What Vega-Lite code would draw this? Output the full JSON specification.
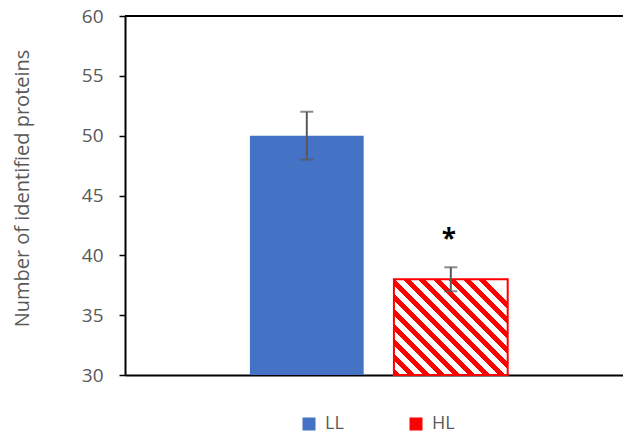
{
  "$schema": "https://vega.github.io/schema/vega-lite/v6.json",
  "autosize": "none",
  "width": 498,
  "height": 359,
  "padding": {"left": 125, "top": 16, "right": 0, "bottom": 59},
  "background": "white",
  "config": {"view": {"stroke": null}, "font": "Open Sans"},
  "data": {"values": [
    {"group": "LL", "mean": 50, "lo": 48, "hi": 52, "sig": "", "sigY": 41.7},
    {"group": "HL", "mean": 38, "lo": 37, "hi": 39, "sig": "*", "sigY": 41.7}
  ]},
  "layer": [
    {
      "mark": {"type": "bar"},
      "encoding": {
        "x": {"field": "group", "type": "nominal", "sort": ["LL", "HL"],
          "scale": {"paddingInner": 0.21, "paddingOuter": 0.834, "align": 0.52},
          "axis": {"title": null, "labels": false, "ticks": false, "domainColor": "#000000", "domainWidth": 2}},
        "y": {"field": "mean", "type": "quantitative",
          "scale": {"domain": [30, 60], "nice": false, "zero": false},
          "axis": {"values": [30, 35, 40, 45, 50, 55, 60], "grid": false,
            "title": "Number of identified proteins", "titleFontSize": 20, "titleFontWeight": "normal",
            "titleColor": "#595959", "titleX": -103, "titleY": 172, "titleAlign": "center", "titleBaseline": "middle", "titleAngle": -90,
            "labelFontSize": 19, "labelColor": "#595959", "labelPadding": 16,
            "tickSize": 6, "tickColor": "#000000", "tickWidth": 1.5,
            "domainColor": "#000000", "domainWidth": 2}},
        "y2": {"datum": 30},
        "fill": {"field": "group", "type": "nominal", "sort": ["LL", "HL"],
          "scale": {"domain": ["LL", "HL"], "range": ["#4472C4", "#FF0000"]},
          "legend": {"title": null, "orient": "none", "legendX": 175, "legendY": 399, "direction": "horizontal", "columns": 2,
            "symbolType": "square", "symbolSize": 169, "labelFontSize": 18, "labelColor": "#595959",
            "labelOffset": 7, "columnPadding": 63}}
      }
    },
    {
      "transform": [{"filter": "datum.group === 'HL'"}],
      "mark": {"type": "bar", "stroke": "#FF0000", "strokeWidth": 2,
        "fill": {
            "gradient": "linear", "x1": 0, "y1": 1, "x2": 1, "y2": 0.158,
            "stops": [
              {"offset": 0.000, "color": "#FF0000"}, {"offset": 0.035, "color": "#FF0000"}, {"offset": 0.035, "color": "#FFFFFF"}, {"offset": 0.077, "color": "#FFFFFF"},
              {"offset": 0.077, "color": "#FF0000"}, {"offset": 0.112, "color": "#FF0000"}, {"offset": 0.112, "color": "#FFFFFF"}, {"offset": 0.154, "color": "#FFFFFF"},
              {"offset": 0.154, "color": "#FF0000"}, {"offset": 0.189, "color": "#FF0000"}, {"offset": 0.189, "color": "#FFFFFF"}, {"offset": 0.231, "color": "#FFFFFF"},
              {"offset": 0.231, "color": "#FF0000"}, {"offset": 0.266, "color": "#FF0000"}, {"offset": 0.266, "color": "#FFFFFF"}, {"offset": 0.308, "color": "#FFFFFF"},
              {"offset": 0.308, "color": "#FF0000"}, {"offset": 0.343, "color": "#FF0000"}, {"offset": 0.343, "color": "#FFFFFF"}, {"offset": 0.385, "color": "#FFFFFF"},
              {"offset": 0.385, "color": "#FF0000"}, {"offset": 0.420, "color": "#FF0000"}, {"offset": 0.420, "color": "#FFFFFF"}, {"offset": 0.462, "color": "#FFFFFF"},
              {"offset": 0.462, "color": "#FF0000"}, {"offset": 0.497, "color": "#FF0000"}, {"offset": 0.497, "color": "#FFFFFF"}, {"offset": 0.538, "color": "#FFFFFF"},
              {"offset": 0.538, "color": "#FF0000"}, {"offset": 0.573, "color": "#FF0000"}, {"offset": 0.573, "color": "#FFFFFF"}, {"offset": 0.615, "color": "#FFFFFF"},
              {"offset": 0.615, "color": "#FF0000"}, {"offset": 0.650, "color": "#FF0000"}, {"offset": 0.650, "color": "#FFFFFF"}, {"offset": 0.692, "color": "#FFFFFF"},
              {"offset": 0.692, "color": "#FF0000"}, {"offset": 0.727, "color": "#FF0000"}, {"offset": 0.727, "color": "#FFFFFF"}, {"offset": 0.769, "color": "#FFFFFF"},
              {"offset": 0.769, "color": "#FF0000"}, {"offset": 0.804, "color": "#FF0000"}, {"offset": 0.804, "color": "#FFFFFF"}, {"offset": 0.846, "color": "#FFFFFF"},
              {"offset": 0.846, "color": "#FF0000"}, {"offset": 0.881, "color": "#FF0000"}, {"offset": 0.881, "color": "#FFFFFF"}, {"offset": 0.923, "color": "#FFFFFF"},
              {"offset": 0.923, "color": "#FF0000"}, {"offset": 0.958, "color": "#FF0000"}, {"offset": 0.958, "color": "#FFFFFF"}, {"offset": 1.000, "color": "#FFFFFF"}
            ]}},
      "encoding": {
        "x": {"field": "group", "type": "nominal", "sort": ["LL", "HL"]},
        "y": {"field": "mean", "type": "quantitative"},
        "y2": {"datum": 30}
      }
    },
    {
      "mark": {"type": "rule", "color": "#595959", "strokeWidth": 2},
      "encoding": {
        "x": {"field": "group", "type": "nominal", "sort": ["LL", "HL"]},
        "y": {"field": "lo", "type": "quantitative"}, "y2": {"field": "hi"}}
    },
    {
      "mark": {"type": "tick", "color": "#595959", "thickness": 2, "size": 13},
      "encoding": {
        "x": {"field": "group", "type": "nominal", "sort": ["LL", "HL"]},
        "y": {"field": "lo", "type": "quantitative"}}
    },
    {
      "mark": {"type": "tick", "color": "#595959", "thickness": 2, "size": 13},
      "encoding": {
        "x": {"field": "group", "type": "nominal", "sort": ["LL", "HL"]},
        "y": {"field": "hi", "type": "quantitative"}}
    },
    {
      "mark": {"type": "text", "fontSize": 26, "fontWeight": "bold", "color": "#000000", "baseline": "middle", "dy": 5, "dx": -2},
      "encoding": {
        "x": {"field": "group", "type": "nominal", "sort": ["LL", "HL"]},
        "y": {"field": "sigY", "type": "quantitative"}, "text": {"field": "sig"}}
    },
    {
      "mark": {"type": "rule", "color": "#000000", "strokeWidth": 2},
      "encoding": {"y": {"datum": 60, "type": "quantitative"}}
    }
  ]
}
